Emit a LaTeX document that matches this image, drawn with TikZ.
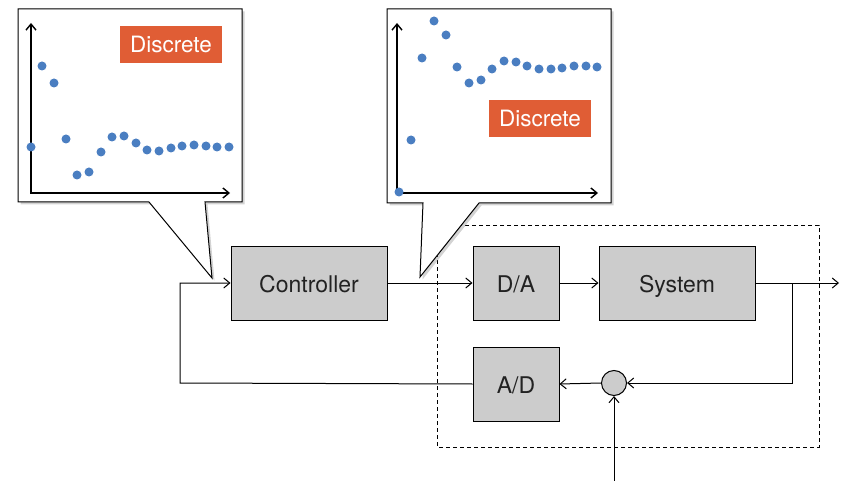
\documentclass[tikz,border=0pt]{standalone}
\usepackage{fontspec}
\setmainfont{TeX Gyre Heros}
\usepackage{tikz}
\usetikzlibrary{arrows,arrows.meta,shapes,shadows,positioning}

\definecolor{blockgray}{HTML}{CCCCCC}
\definecolor{dotblue}{HTML}{4A7EC1}
\definecolor{tagorange}{HTML}{E05D35}
\definecolor{inkgray}{HTML}{222222}

\tikzstyle{block}=[
	draw=black,
	fill=blockgray,
	line width=1pt,
	minimum height=74pt,
	inner sep=0pt,
	text height=18pt,
	text depth=0pt,
	text=inkgray,
	font=\fontsize{23}{27}\selectfont
]
\tikzstyle{wideblock}=[
	block,
	minimum width=156pt
]
\tikzstyle{narrowblock}=[
	block,
	minimum width=86pt
]
\tikzstyle{junction}=[
	circle,
	draw=black,
	fill=blockgray,
	line width=1pt,
	minimum size=25pt,
	inner sep=0pt
]
\tikzstyle{edge}=[
	-{Straight Barb[length=6pt,width=10pt]},
	line width=1pt,
	draw=black
]
\tikzstyle{bubble}=[
	draw=black,
	fill=white,
	line width=1pt,
	drop shadow={shadow xshift=2.5pt, shadow yshift=-2.5pt, opacity=0.35}
]
\tikzstyle{axis}=[
	{Straight Barb[length=6pt,width=10pt]}-{Straight Barb[length=6pt,width=10pt]},
	line width=1.4pt
]
\tikzstyle{sample}=[
	circle,
	fill=dotblue,
	inner sep=0pt,
	minimum size=9pt
]
\tikzstyle{tag}=[
	fill=tagorange,
	text=white,
	inner sep=0pt,
	minimum width=102pt,
	minimum height=37pt,
	text height=16pt,
	text depth=0pt,
	font=\fontsize{22.5}{26}\selectfont
]

\begin{document}
\begin{tikzpicture}[x=1pt,y=-1pt]
\useasboundingbox (0,0) rectangle (843,481);

\node[wideblock] (ctrl) at (309,283) {Controller};
\node[narrowblock] (da) at (516,283) {D/A};
\node[wideblock, right=39pt of da] (sys) {System};
\node[narrowblock, below=26pt of da] (ad) {A/D};
\node[junction] (sum) at (614,383) {};

\coordinate (fbk) at (180,383);
\coordinate (tap) at (792,283);
\coordinate (out) at (839,283);
\coordinate (dist) at (614,481);

\draw[dash pattern=on 4pt off 3pt, line width=0.8pt] (437,225) rectangle (819,447);

\draw[edge] (ad.west) -- (fbk) |- (ctrl.west);
\draw[edge] (ctrl.east) -- (da.west);
\draw[edge] (da.east) -- (sys.west);
\draw[edge] (sys.east) -- (out);
\draw[edge] (tap) |- (sum.east);
\draw[edge] (sum.west) -- (ad.east);
\draw[edge] (dist) -- (sum.south);

% controller input samples
\draw[bubble] (18,9) -- (242,9) -- (242,202) -- (205,202) -- (212,278) -- (149,202) -- (18,202) -- cycle;
\draw[axis] (31,23) -- (31,193) -- (230,193);
\foreach \px/\py [count=\i] in {31/147,42/66,54/83,66/139,77/175,89/172,101/152,112/137,124/136,136/143,147/150,159/151,171/148,182/146,194/145,206/146,217/147,229/147}
	\node[sample] (ldot\i) at (\px,\py) {};
\node[tag] (ltag) at (171,44.5) {Discrete};

% controller output samples
\draw[bubble] (387,9) -- (611,9) -- (611,203) -- (479,203) -- (420,277) -- (423,203) -- (387,203) -- cycle;
\draw[axis] (397,23) -- (397,193) -- (598,193);
\foreach \px/\py [count=\i] in {399/192,411/140,422/58,434/21,446/35,457/67,469/83,481/80,492/69,504/61,516/62,527/66,539/69,551/69,562/68,574/66,586/66,597/67}
	\node[sample] (rdot\i) at (\px,\py) {};
\node[tag] (rtag) at (540,118.5) {Discrete};

\end{tikzpicture}
\end{document}
